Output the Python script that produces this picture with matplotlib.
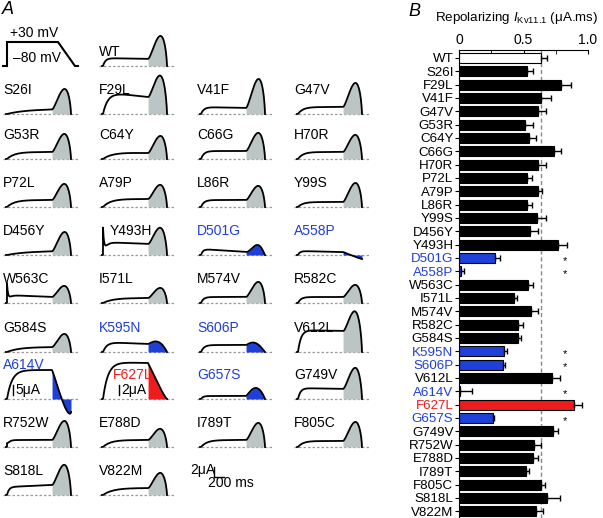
import numpy as np
import matplotlib
matplotlib.use('Agg')
import matplotlib.pyplot as plt

plt.rcParams['font.family'] = ['Liberation Sans', 'DejaVu Sans']
plt.rcParams['mathtext.fontset'] = 'custom'
plt.rcParams['mathtext.rm'] = 'Liberation Sans'
plt.rcParams['mathtext.it'] = 'Liberation Sans:italic'

W, H = 603, 518

# ---- panel B data (repolarizing charge, uA.ms) ----
mutants = ['WT', 'S26I', 'F29L', 'V41F', 'G47V', 'G53R', 'C64Y', 'C66G', 'H70R',
           'P72L', 'A79P', 'L86R', 'Y99S', 'D456Y', 'Y493H', 'D501G', 'A558P',
           'W563C', 'I571L', 'M574V', 'R582C', 'G584S', 'K595N', 'S606P', 'V612L',
           'A614V', 'F627L', 'G657S', 'G749V', 'R752W', 'E788D', 'I789T', 'F805C',
           'S818L', 'V822M']
charge = [0.634, 0.528, 0.794, 0.639, 0.613, 0.515, 0.546, 0.735, 0.616,
          0.528, 0.616, 0.531, 0.606, 0.552, 0.765, 0.278, 0.013,
          0.534, 0.425, 0.557, 0.459, 0.456, 0.348, 0.338, 0.722,
          0.005, 0.894, 0.260, 0.727, 0.582, 0.575, 0.523, 0.634,
          0.683, 0.595]
charge_err = [0.049, 0.046, 0.072, 0.072, 0.059, 0.059, 0.054, 0.052, 0.057,
              0.039, 0.026, 0.034, 0.067, 0.059, 0.070, 0.039, 0.026,
              0.041, 0.021, 0.054, 0.039, 0.021, 0.023, 0.021, 0.064,
              0.095, 0.059, 0.013, 0.039, 0.052, 0.039, 0.021, 0.034,
              0.098, 0.057]
loss_of_function = ['D501G', 'A558P', 'K595N', 'S606P', 'A614V', 'G657S']
gain_of_function = ['F627L']
significant = ['D501G', 'A558P', 'K595N', 'S606P', 'A614V', 'G657S']

# ---- panel A trace data (uA, ms) ----
plateau_start = [1.6, 1.0, 4.4, 1.4, 1.4, 1.4, 1.4, 1.6, 1.4,
                 1.4, 1.6, 1.4, 1.0, 0.8, 2.6, 1.2, 0.8,
                 1.6, 1.0, 1.2, 1.2, 1.0, 2.0, 1.4, 4.4,
                 14.5, 7.4, 0.6, 2.2, 1.4, 1.4, 1.4, 1.2,
                 1.6, 1.4]
plateau_end = [1.4, 1.0, 3.4, 1.2, 1.4, 1.4, 1.2, 1.6, 1.4,
               1.4, 1.6, 1.4, 1.0, 0.8, 2.2, 0.6, 0.6,
               1.2, 1.0, 1.2, 1.2, 1.0, 1.6, 1.4, 4.2,
               14.5, 7.2, 0.6, 2.0, 1.4, 1.4, 1.4, 1.2,
               2.0, 1.4]
rise_tau = [50, 400, 100, 60, 100, 150, 200, 60, 100,
            150, 150, 60, 100, 400, 60, 40, 40,
            50, 200, 50, 60, 250, 80, 60, 60,
            100, 100, 40, 50, 40, 150, 120, 100,
            40, 200]
onset_spike = [0, 0, 0, 0, 0, 0, 0, 0, 0,
               0, 0, 0, 0, 0, 5.6, 0, 0,
               4.0, 0, 0, 0, 0, 0, 0, 0,
               0, 0, 0, 0, 0.8, 0, 0, 0,
               0, 0]
tail_peak = [6.0, 5.0, 7.6, 7.0, 6.2, 5.0, 4.6, 5.2, 4.8,
             4.6, 4.4, 4.2, 4.8, 4.6, 5.4, 2.0, -0.4,
             3.4, 3.0, 4.2, 3.6, 3.6, 2.0, 1.8, 8.0,
             -4.0, 2.0, 2.2, 6.2, 5.2, 3.6, 4.8, 5.0,
             6.0, 4.4]
tail_end = [0] * 16 + [-0.8] + [0] * 8 + [-6.5] + [0] * 9
peak_pos = [0.68] * 35
fall_exp = [0.7] * 35
for name, pp, fe in [('D501G', 0.62, 1.2), ('K595N', 0.55, 1.0),
                     ('S606P', 0.5, 1.2), ('G657S', 0.55, 1.0), ('F627L', 0.67, 0.7)]:
    peak_pos[mutants.index(name)] = pp
    fall_exp[mutants.index(name)] = fe
display_gain = [1.0] * 35
display_gain[mutants.index('A614V')] = 0.4

protocol_t = [-40, 40, 40, 1060, 1400, 1460]
protocol_v = [-80, -80, 30, 30, -80, -80]

T_ON, T_RAMP, T_END = 40, 940, 1320

BLUE = '#1f3fd9'
RED = '#ee1c1c'
GRAY = '#bcc5c5'


def color_of(name):
    if name in loss_of_function:
        return BLUE
    if name in gain_of_function:
        return RED
    return 'black'


def make_trace(t, i):
    p0, p1, tau = plateau_start[i], plateau_end[i], rise_tau[i]
    y = np.zeros_like(t)
    on = (t >= T_ON) & (t < T_RAMP)
    dt = t[on] - T_ON
    u = dt / (T_RAMP - T_ON)
    y[on] = (p0 + (p1 - p0) * u) * (1 - np.exp(-dt / tau)) + onset_spike[i] * np.exp(-dt / 20)
    yr = p1 * (1 - np.exp(-(T_RAMP - T_ON) / tau))
    ramp = t >= T_RAMP
    s = (t[ramp] - T_RAMP) / (T_END - T_RAMP)
    sp, b = peak_pos[i], fall_exp[i]
    a = b * sp / (1 - sp)
    f = s ** a * (1 - s) ** b / (sp ** a * (1 - sp) ** b)
    amp = tail_peak[i] - (yr * (1 - sp) + tail_end[i] * sp)
    y[ramp] = yr * (1 - s) + tail_end[i] * s + amp * f
    return y * display_gain[i]


fig = plt.figure(figsize=(W / 100, H / 100), dpi=100)


def px_axes(x0, y0, w, h):
    return fig.add_axes([x0 / W, 1 - (y0 + h) / H, w / W, h / H])


def px_text(x, y, s, **kw):
    kw.setdefault('va', 'center')
    kw.setdefault('fontsize', 10)
    return fig.text(x / W, 1 - y / H, s, **kw)


baselines = [66, 114, 159, 207, 255, 303, 352, 399, 447, 495]
col_x = [5, 101, 199, 296]


def cell_axes(row, col, ylim):
    ax = px_axes(col_x[col] - 5, baselines[row] - 48, 80, 64)
    ax.set_xlim(-100, 1500)
    ax.set_ylim(*ylim)
    ax.axis('off')
    return ax


# protocol
axp = cell_axes(0, 0, (-80 - 16 * 110 / 24, -80 + 48 * 110 / 24))
axp.plot(protocol_t, protocol_v, color='black', lw=1.5, solid_joinstyle='miter')
px_text(10, 33, '+30 mV')
px_text(13, 58, '–80 mV')

t = np.linspace(20, T_END, 1400)
for i, name in enumerate(mutants):
    cell = 1 if i == 0 else i + 3
    row, col = cell // 4, cell % 4
    ax = cell_axes(row, col, (-3.2, 9.6))
    ax.plot([-40, 1460], [0, 0], color='#9a9a9a', lw=0.9, ls=(0, (2, 1.6)))
    y = make_trace(t, i)
    c = color_of(name)
    fill = GRAY if c == 'black' else c
    m = t >= T_RAMP
    ax.fill_between(t[m], y[m], 0, color=fill, lw=0, zorder=2)
    ax.plot(t, y, color='black', lw=1.3, zorder=3)

    lx = col_x[col] - 2
    ly = baselines[row] - 24
    if name == 'WT':
        ly = baselines[row] - 14
    elif name == 'Y493H':
        lx = col_x[col] + 9
    elif name == 'A614V':
        ly = baselines[row] - 34
    elif name == 'F627L':
        lx = col_x[col] + 12
    px_text(lx, ly, name, color=c, zorder=5)

    if name in ('A614V', 'F627L'):
        bar = 5 if name == 'A614V' else 2
        bx = 160 if name == 'A614V' else 350
        ax.plot([bx, bx], [0.8, 0.8 + bar * display_gain[i]], color='black', lw=1.0)
        ax.text(bx + 50, 1.8, '%dμA' % bar, fontsize=10, va='center', ha='left')

# scale bar
axs = cell_axes(9, 2, (-3.2, 9.6))
axs.plot([300, 300, 500], [5.6, 3.6, 3.6], color='black', lw=1.0)
px_text(215, 470, '2μA', ha='right')
px_text(231, 483, '200 ms', ha='center')

# panel letters
px_text(2, 10, 'A', fontsize=13, style='italic')
px_text(408, 11, 'B', fontsize=13, style='italic')

# ---- panel B ----
axb = px_axes(459, 50, 129, 468)
n = len(mutants)
yy = np.arange(n)
bar_cols = []
for name in mutants:
    if name == 'WT':
        bar_cols.append('white')
    elif color_of(name) == 'black':
        bar_cols.append('black')
    else:
        bar_cols.append(color_of(name))
axb.barh(yy, charge, height=0.75, color=bar_cols, edgecolor='black', linewidth=0.8, zorder=2)
axb.errorbar(charge, yy, xerr=[np.zeros(n), charge_err], fmt='none', ecolor='black',
             elinewidth=1.0, capsize=2, capthick=1.0, zorder=3)
axb.axvline(charge[0], color='#7f8c99', lw=1.0, ls=(0, (3, 2)), zorder=1)
for name in significant:
    axb.text(0.82, mutants.index(name) + 0.2, '*', fontsize=8, ha='center', va='center')

axb.set_xlim(0, 1.0)
axb.set_ylim(n - 0.5, -0.6)
axb.xaxis.tick_top()
axb.set_xticks([0, 0.5, 1.0])
axb.set_xticklabels(['0', '0.5', '1.0'])
axb.set_xticks([0.25, 0.75], minor=True)
axb.tick_params(axis='x', which='both', direction='in', length=3, labelsize=10, pad=2)
axb.set_yticks(yy)
axb.set_yticklabels(mutants)
axb.tick_params(axis='y', direction='out', length=3, labelsize=9.6, pad=1)
for lab, name in zip(axb.get_yticklabels(), mutants):
    lab.set_color(color_of(name))
axb.spines['right'].set_visible(False)
axb.spines['bottom'].set_visible(False)
px_text(517, 18, r'Repolarizing $\mathit{I}_{\mathrm{Kv11.1}}$ (μA.ms)', ha='center', fontsize=9.6)

fig.savefig('out.png', dpi=100)
